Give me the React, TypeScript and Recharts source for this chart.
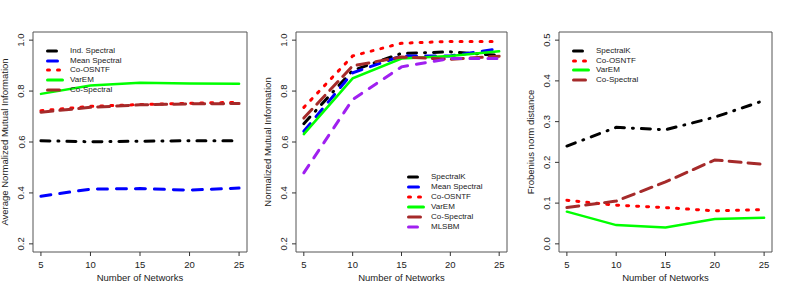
import React from "react";
import { LineChart, Line, XAxis, YAxis, ReferenceArea, Legend } from "recharts";

// values
const networks = [5, 10, 15, 20, 25];

// panel 1: average NMI
const indSpectralAvg = [0.605, 0.601, 0.603, 0.605, 0.605];
const meanSpectralAvg = [0.387, 0.415, 0.417, 0.411, 0.419];
const coOsntfAvg = [0.723, 0.74, 0.747, 0.752, 0.756];
const varEmAvg = [0.789, 0.822, 0.833, 0.83, 0.829];
const coSpectralAvg = [0.717, 0.736, 0.746, 0.75, 0.751];

// panel 2: NMI
const spectralKNmi = [0.672, 0.881, 0.948, 0.954, 0.94];
const meanSpectralNmi = [0.642, 0.872, 0.938, 0.938, 0.966];
const coOsntfNmi = [0.736, 0.938, 0.988, 0.995, 0.995];
const varEmNmi = [0.631, 0.85, 0.928, 0.938, 0.956];
const coSpectralNmi = [0.694, 0.899, 0.934, 0.925, 0.937];
const mlsbmNmi = [0.479, 0.767, 0.895, 0.928, 0.928];

// panel 3: Frobenius norm distance
const spectralKFrob = [0.24, 0.286, 0.28, 0.311, 0.352];
const coOsntfFrob = [0.107, 0.095, 0.089, 0.081, 0.084];
const varEmFrob = [0.079, 0.046, 0.04, 0.061, 0.064];
const coSpectralFrob = [0.089, 0.105, 0.152, 0.206, 0.195];

const nmiTicks = [0.2, 0.4, 0.6, 0.8, 1.0];
const frobTicks = [0, 0.1, 0.2, 0.3, 0.4, 0.5];

const FONT = "'Liberation Sans', Arial, sans-serif";
const TEXT = "#222";

type Style = { color: string; dash?: string; width?: number };
const styles: Record<string, Style> = {
  black: { color: "#000000", dash: "9 8 1 8" },
  blue: { color: "#0000FF", dash: "10 9" },
  red: { color: "#FF0000", dash: "2 8" },
  green: { color: "#00FF00", width: 2.5 },
  brown: { color: "#A52A2A", dash: "12 7" },
  purple: { color: "#A020F0", dash: "9 9" },
};

type Series = { key: string; name: string; values: number[]; style: Style };

const panel1: Series[] = [
  { key: "ind", name: "Ind. Spectral", values: indSpectralAvg, style: styles.black },
  { key: "mean", name: "Mean Spectral", values: meanSpectralAvg, style: styles.blue },
  { key: "osntf", name: "Co-OSNTF", values: coOsntfAvg, style: styles.red },
  { key: "varem", name: "VarEM", values: varEmAvg, style: styles.green },
  { key: "cospec", name: "Co-Spectral", values: coSpectralAvg, style: styles.brown },
];

const panel2: Series[] = [
  { key: "speck", name: "SpectralK", values: spectralKNmi, style: styles.black },
  { key: "mean", name: "Mean Spectral", values: meanSpectralNmi, style: styles.blue },
  { key: "osntf", name: "Co-OSNTF", values: coOsntfNmi, style: styles.red },
  { key: "varem", name: "VarEM", values: varEmNmi, style: styles.green },
  { key: "cospec", name: "Co-Spectral", values: coSpectralNmi, style: styles.brown },
  { key: "mlsbm", name: "MLSBM", values: mlsbmNmi, style: styles.purple },
];

const panel3: Series[] = [
  { key: "speck", name: "SpectralK", values: spectralKFrob, style: styles.black },
  { key: "osntf", name: "Co-OSNTF", values: coOsntfFrob, style: styles.red },
  { key: "varem", name: "VarEM", values: varEmFrob, style: styles.green },
  { key: "cospec", name: "Co-Spectral", values: coSpectralFrob, style: styles.brown },
];

const toRows = (series: Series[]) =>
  networks.map((n, i) => {
    const row: Record<string, number> = { n };
    series.forEach((s) => (row[s.key] = s.values[i]));
    return row;
  });

const VTick = (props: any) => {
  const { x, y, payload } = props;
  return (
    <text
      x={x}
      y={y}
      transform={`rotate(-90 ${x} ${y})`}
      textAnchor="middle"
      fontSize={9.5}
      fontFamily={FONT}
      fill={TEXT}
    >
      {Number(payload.value).toFixed(1)}
    </text>
  );
};

const LegendBox = ({ series, rowH }: { series: Series[]; rowH: number }) => (
  <div style={{ fontFamily: FONT, fontSize: 8, color: TEXT }}>
    {series.map((s) => (
      <div key={s.key} style={{ display: "flex", alignItems: "center", height: rowH }}>
        <svg width={18} height={6} style={{ display: "block" }}>
          <line
            x1={1.5}
            y1={3}
            x2={16.5}
            y2={3}
            stroke={s.style.color}
            strokeWidth={3}
            strokeLinecap="round"
            strokeDasharray={s.style.dash}
          />
        </svg>
        <span style={{ marginLeft: 6, lineHeight: 1 }}>{s.name}</span>
      </div>
    ))}
  </div>
);

type PanelProps = {
  series: Series[];
  yTitle: string;
  yDomain: [number, number];
  yTicks: number[];
  rightMargin: number;
  legendLeft: number;
  legendTop: number;
  rowH: number;
};

const W = 263;
const H = 293;

function Panel({ series, yTitle, yDomain, yTicks, rightMargin, legendLeft, legendTop, rowH }: PanelProps) {
  const data = toRows(series);
  return (
    <LineChart width={W} height={H} data={data} margin={{ top: 32, right: rightMargin, bottom: 0, left: 0 }}>
      <XAxis
        dataKey="n"
        type="number"
        domain={[4.2, 25.8]}
        ticks={networks}
        allowDataOverflow
        height={41}
        axisLine={false}
        tickSize={4}
        tickMargin={5}
        tickLine={{ stroke: "#333" }}
        tick={{ fontSize: 9.5, fontFamily: FONT, fill: TEXT }}
        label={(p: any) => {
          const vb = p.viewBox;
          return (
            <text
              x={vb.x + vb.width / 2}
              y={vb.y + 29}
              textAnchor="middle"
              fontSize={9.5}
              fontFamily={FONT}
              fill={TEXT}
            >
              Number of Networks
            </text>
          );
        }}
      />
      <YAxis
        type="number"
        domain={yDomain}
        ticks={yTicks}
        allowDataOverflow
        width={33}
        axisLine={false}
        tickSize={4}
        tickMargin={4.5}
        tickLine={{ stroke: "#333" }}
        tick={<VTick />}
        label={(p: any) => {
          const vb = p.viewBox;
          const x = vb.x + vb.width - 25.5;
          const y = vb.y + vb.height / 2;
          return (
            <text
              x={x}
              y={y}
              transform={`rotate(-90 ${x} ${y})`}
              textAnchor="middle"
              fontSize={9.5}
              fontFamily={FONT}
              fill={TEXT}
            >
              {yTitle}
            </text>
          );
        }}
      />
      <ReferenceArea
        x1={4.2}
        x2={25.8}
        y1={yDomain[0]}
        y2={yDomain[1]}
        fill="none"
        stroke="#555"
        strokeWidth={1}
        ifOverflow="visible"
      />
      {series.map((s) => (
        <Line
          key={s.key}
          dataKey={s.key}
          name={s.name}
          type="linear"
          stroke={s.style.color}
          strokeWidth={s.style.width ?? 3}
          strokeDasharray={s.style.dash}
          strokeLinecap="round"
          dot={false}
          activeDot={false}
          isAnimationActive={false}
        />
      ))}
      <Legend
        layout="vertical"
        align="center"
        verticalAlign="middle"
        content={() => <LegendBox series={series} rowH={rowH} />}
        wrapperStyle={{ left: legendLeft, top: legendTop, width: "auto", height: "auto" }}
      />
    </LineChart>
  );
}

export default function App() {
  return (
    <div style={{ position: "absolute", left: 0, top: 0, width: 789, height: 293, background: "#fff", display: "flex" }}>
      <Panel
        series={panel1}
        yTitle="Average Normalized Mutual Information"
        yDomain={[0.168, 1.032]}
        yTicks={nmiTicks}
        rightMargin={16}
        legendLeft={46}
        legendTop={46}
        rowH={9.75}
      />
      <Panel
        series={panel2}
        yTitle="Normalized Mutual Information"
        yDomain={[0.168, 1.032]}
        yTicks={nmiTicks}
        rightMargin={19}
        legendLeft={144}
        legendTop={172}
        rowH={10}
      />
      <Panel
        series={panel3}
        yTitle="Frobenius norm distance"
        yDomain={[-0.02, 0.52]}
        yTicks={frobTicks}
        rightMargin={17}
        legendLeft={46}
        legendTop={46}
        rowH={9.75}
      />
    </div>
  );
}
